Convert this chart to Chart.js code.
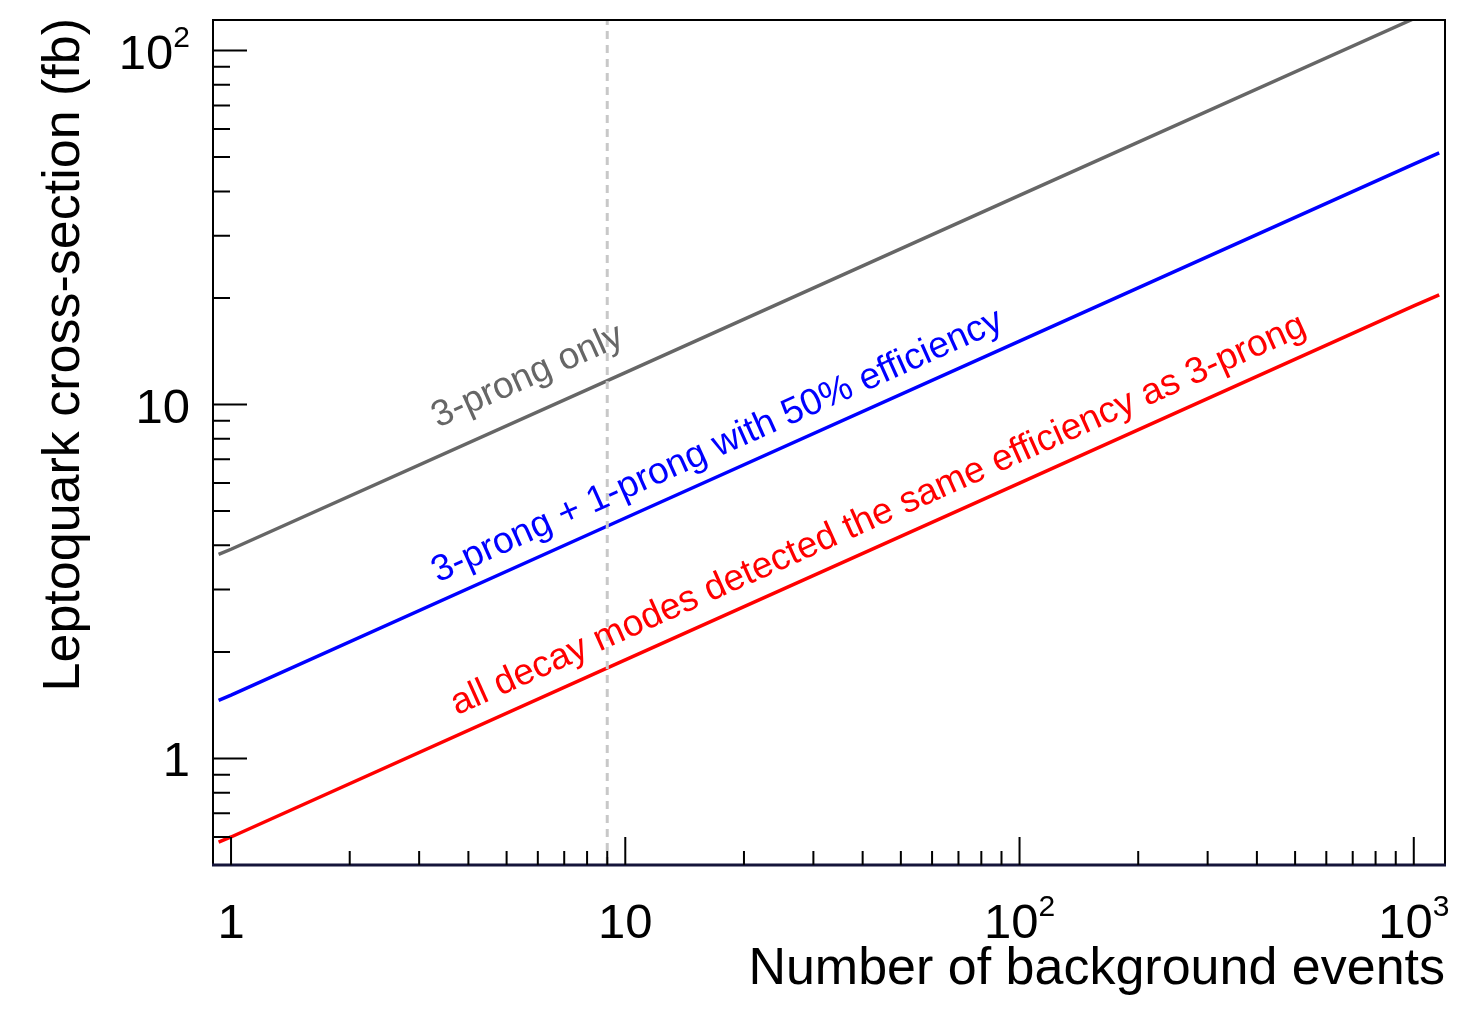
<!DOCTYPE html>
<html>
<head>
<meta charset="utf-8">
<title>Leptoquark cross-section</title>
<script src="https://cdn.jsdelivr.net/npm/chart.js@4.4.0/dist/chart.umd.min.js"></script>
<style>
  html, body { margin: 0; padding: 0; background: #fff; }
  #wrap { width: 1459px; height: 1010px; }
</style>
</head>
<body>
<div id="wrap"><canvas id="grafico" width="1459" height="1010"></canvas></div>
<script>
// valores
const eventos = [0.93, 1, 10, 100, 1000, 1160];
const soTresProng = [3.77, 3.9, 12.3, 39, 123, 133];
const tresMaisUmProng = [1.46, 1.51, 4.78, 15.1, 47.8, 51.4];
const todosModos = [0.58, 0.6, 1.9, 6.0, 19.0, 20.4];
const linhaCorte = 9;

const xMajor = [1, 10, 100, 1000];
const xMinor = [2, 3, 4, 5, 6, 7, 8, 9, 20, 30, 40, 50, 60, 70, 80, 90, 200, 300, 400, 500, 600, 700, 800, 900];
const xLabels = [["1", ""], ["10", ""], ["10", "2"], ["10", "3"]];
const yMajor = [1, 10, 100];
const yMinor = [0.6, 0.7, 0.8, 0.9, 2, 3, 4, 5, 6, 7, 8, 9, 20, 30, 40, 50, 60, 70, 80, 90];
const yLabels = [["1", ""], ["10", ""], ["10", "2"]];

const nomes = [
  "3-prong only",
  "3-prong + 1-prong with 50% efficiency",
  "all decay modes detected the same efficiency as 3-prong"
];
const cores = ["#666666", "#0000ff", "#ff0000"];

const FONTE = '"Liberation Sans", Arial, Helvetica, sans-serif';

function pontos(ys) {
  return eventos.map((x, i) => ({ x: x, y: ys[i] }));
}

function textoComExpoente(ctx, base, exp, x, y, alinhamento, tam) {
  const tamExp = Math.round(tam * 0.62);
  ctx.font = tam + "px " + FONTE;
  const wb = ctx.measureText(base).width;
  ctx.font = tamExp + "px " + FONTE;
  const we = exp ? ctx.measureText(exp).width : 0;
  const total = wb + we;
  let x0 = x;
  if (alinhamento === "center") x0 = x - total / 2;
  if (alinhamento === "right") x0 = x - total;
  ctx.textAlign = "left";
  ctx.textBaseline = "alphabetic";
  ctx.font = tam + "px " + FONTE;
  ctx.fillText(base, x0, y);
  if (exp) {
    ctx.font = tamExp + "px " + FONTE;
    ctx.fillText(exp, x0 + wb, y - tam * 0.44);
  }
}

// eixos, marcas e textos no estilo ROOT
const eixosRoot = {
  id: "eixosRoot",
  afterDatasetsDraw(chart, args, opts) {
    const ctx = chart.ctx;
    const a = chart.chartArea;
    const sx = chart.scales.x;
    const sy = chart.scales.y;

    ctx.save();

    // linha vertical tracejada
    const xc = sx.getPixelForValue(linhaCorte);
    ctx.strokeStyle = "#c8c8c8";
    ctx.lineWidth = 3;
    ctx.setLineDash([8, 6]);
    ctx.beginPath();
    ctx.moveTo(xc, a.bottom);
    ctx.lineTo(xc, a.top);
    ctx.stroke();
    ctx.setLineDash([]);

    // rótulos ao longo das linhas
    chart.data.datasets.forEach((ds, i) => {
      const meta = chart.getDatasetMeta(i);
      const p0 = meta.data[0], p1 = meta.data[meta.data.length - 1];
      const ang = Math.atan2(p1.y - p0.y, p1.x - p0.x);
      const cfg = opts.rotulos[i];
      const px = sx.getPixelForValue(cfg.x);
      const py = p0.y + (px - p0.x) * Math.tan(ang) + cfg.dy;
      ctx.save();
      ctx.translate(px, py);
      ctx.rotate(ang);
      ctx.fillStyle = ds.borderColor;
      ctx.font = cfg.tam + "px " + FONTE;
      ctx.textAlign = "left";
      ctx.textBaseline = "alphabetic";
      ctx.fillText(ds.label, 0, 0);
      ctx.restore();
    });

    // moldura
    ctx.strokeStyle = "#000";
    ctx.lineWidth = 2;
    ctx.strokeRect(a.left, a.top, a.right - a.left, a.bottom - a.top);
    ctx.strokeStyle = "#15153a";
    ctx.lineWidth = 3;
    ctx.beginPath();
    ctx.moveTo(a.left - 1, a.bottom);
    ctx.lineTo(a.right + 1, a.bottom);
    ctx.stroke();

    // marcas
    ctx.strokeStyle = "#000";
    ctx.lineWidth = 2;
    ctx.beginPath();
    xMajor.forEach(v => {
      const x = sx.getPixelForValue(v);
      ctx.moveTo(x, a.bottom); ctx.lineTo(x, a.bottom - 28);
    });
    xMinor.forEach(v => {
      const x = sx.getPixelForValue(v);
      ctx.moveTo(x, a.bottom); ctx.lineTo(x, a.bottom - 14);
    });
    yMajor.forEach(v => {
      const y = sy.getPixelForValue(v);
      ctx.moveTo(a.left, y); ctx.lineTo(a.left + 34, y);
    });
    yMinor.forEach(v => {
      const y = sy.getPixelForValue(v);
      ctx.moveTo(a.left, y); ctx.lineTo(a.left + 17, y);
    });
    ctx.stroke();

    // números dos eixos
    ctx.fillStyle = "#000";
    xMajor.forEach((v, i) => {
      textoComExpoente(ctx, xLabels[i][0], xLabels[i][1], sx.getPixelForValue(v), a.bottom + 73, "center", 49);
    });
    yMajor.forEach((v, i) => {
      textoComExpoente(ctx, yLabels[i][0], yLabels[i][1], a.left - 23, sy.getPixelForValue(v) + 18, "right", 49);
    });

    // títulos
    ctx.font = "52px " + FONTE;
    ctx.textAlign = "right";
    ctx.textBaseline = "alphabetic";
    ctx.fillText("Number of background events", a.right, a.bottom + 119);

    ctx.save();
    ctx.translate(79, a.top - 2);
    ctx.rotate(-Math.PI / 2);
    ctx.textAlign = "right";
    ctx.fillText("Leptoquark cross-section (fb)", 0, 0);
    ctx.restore();

    ctx.restore();
  }
};

const ctx = document.getElementById("grafico").getContext("2d");
new Chart(ctx, {
  type: "scatter",
  data: {
    datasets: [
      { label: nomes[0], data: pontos(soTresProng), borderColor: cores[0] },
      { label: nomes[1], data: pontos(tresMaisUmProng), borderColor: cores[1] },
      { label: nomes[2], data: pontos(todosModos), borderColor: cores[2] }
    ].map(d => Object.assign(d, { showLine: true, borderWidth: 3.5, pointRadius: 0, clip: 0, backgroundColor: d.borderColor }))
  },
  options: {
    responsive: false,
    animation: false,
    layout: { padding: { left: 213, right: 14, top: 20, bottom: 145 } },
    plugins: {
      legend: { display: false },
      tooltip: { enabled: false },
      eixosRoot: {
        rotulos: [
          { x: 3.35, dy: -28, tam: 37 },
          { x: 3.35, dy: -19, tam: 37 },
          { x: 3.74, dy: -20, tam: 37 }
        ]
      }
    },
    scales: {
      x: { type: "logarithmic", min: 0.9, max: 1200, display: false },
      y: { type: "logarithmic", min: 0.5, max: 122, display: false }
    }
  },
  plugins: [eixosRoot]
});
</script>
</body>
</html>
